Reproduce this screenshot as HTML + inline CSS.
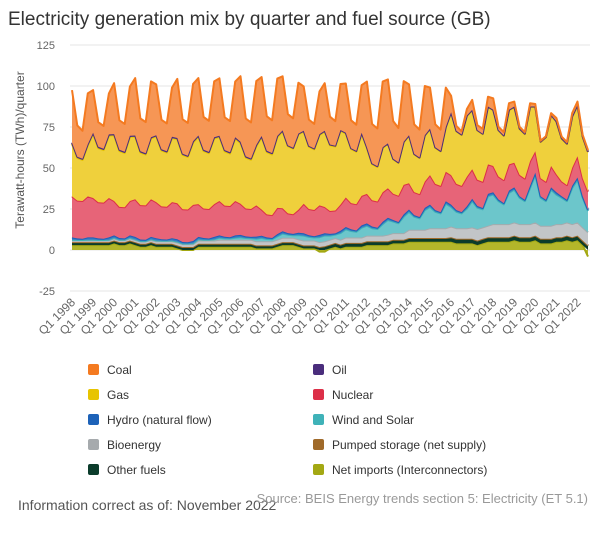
<!DOCTYPE html>
<html><head><meta charset="utf-8">
<style>
body{margin:0;background:#fff;font-family:"Liberation Sans",sans-serif;}
#wrap{position:relative;width:600px;height:540px;overflow:hidden;}
svg text{font-family:"Liberation Sans",sans-serif;}
</style></head>
<body>
<div id="wrap">
<svg id="chart" width="600" height="540">
<text x="8" y="25" font-size="19" fill="#333">Electricity generation mix by quarter and fuel source (GB)</text>
<text transform="translate(24,150) rotate(-90)" text-anchor="middle" font-size="12" fill="#555">Terawatt-hours (TWh)/quarter</text>
<g id="grid"></g><g id="areas"></g><g id="xlabels"></g><g id="legend"></g>
<text x="18" y="510" font-size="14" fill="#555">Information correct as of: November 2022</text>
<text x="588" y="503" text-anchor="end" font-size="13" fill="#999">Source: BEIS Energy trends section 5: Electricity (ET 5.1)</text>
</svg>
</div>
<script>
const years=[1998,1999,2000,2001,2002,2003,2004,2005,2006,2007,2008,2009,2010,2011,2012,2013,2014,2015,2016,2017,2018,2019,2020,2021,2022];
const yTicks=[-25,0,25,50,75,100,125];
const coal=[32,19,17,31, 26,15,14,25, 31,18,17,30, 35,20,19,34, 31,18,17,30, 36,21,20,35, 35,20,19,34, 35,20,19,34, 40,23,22,39, 36,21,20,35, 33,19,18,31, 27,16,15,26, 29,17,15,28, 30,17,16,29, 40,24,23,40, 39,23,21,37, 31,18,17,30, 25,14,13,24, 10,3,2,4, 6,3,3,6, 7,2,2,4, 3,1,1,2, 1.5,0.5,0.5,1, 2,1,1,2, 2,1,1];
const oil=[0.8,0.8,0.8,0.8, 0.8,0.8,0.8,0.8, 0.8,0.8,0.8,0.8, 0.8,0.8,0.8,0.8, 0.8,0.8,0.8,0.8, 0.8,0.8,0.8,0.8, 0.8,0.8,0.8,0.8, 0.8,0.8,0.8,0.8, 0.8,0.8,0.8,0.8, 0.8,0.8,0.8,0.8, 0.5,0.5,0.5,0.5, 0.5,0.5,0.5,0.5, 0.5,0.5,0.5,0.5, 0.5,0.5,0.5,0.5, 0.5,0.5,0.5,0.5, 0.3,0.3,0.3,0.3, 0.3,0.3,0.3,0.3, 0.3,0.3,0.3,0.3, 0.3,0.3,0.3,0.3, 0.3,0.3,0.3,0.3, 0.3,0.3,0.3,0.3, 0.3,0.3,0.3,0.3, 0.3,0.3,0.3,0.3, 0.3,0.3,0.3,0.3, 0.3,0.3,0.3];
const gas=[32,26,25,31, 39,33,32,38, 40,34,33,39, 38,32,31,37, 40,34,33,39, 39,33,32,38, 41,35,34,40, 39,33,32,38, 37,31,30,36, 44,38,37,43, 47,41,40,46, 44,38,37,43, 46,40,39,45, 39,33,32,38, 28,22,21,27, 27,21,20,26, 29,23,22,28, 28,22,21,27, 38,32,31,37, 36,30,29,35, 34,28,27,33, 34,28,27,33, 27,22,27,31, 32,26,25,31, 31,25,24];
const nuclear=[25,23,23,25, 24,22,22,24, 21,19,19,21, 23,21,21,23, 22,20,20,22, 22,20,20,22, 20,18,18,20, 21,19,19,21, 19,17,17,19, 16,14,14,16, 14,12,12,14, 18,16,16,18, 16,14,14,16, 18,16,16,18, 18,16,16,18, 18,16,16,18, 16,14,14,16, 18,16,16,18, 18,16,16,18, 18,16,16,18, 16,14,14,16, 15,13,13,15, 13,11,11,13, 11,9,9,11, 13,11,11];
const hydro=[1.4,1,0.8,1.4, 1.4,1,0.8,1.4, 1.4,1,0.8,1.4, 1.4,1,0.8,1.4, 1.4,1,0.8,1.4, 1.4,1,0.8,1.4, 1.4,1,0.8,1.4, 1.4,1,0.8,1.4, 1.4,1,0.8,1.4, 1.4,1,0.8,1.4, 1.4,1,0.8,1.4, 1.4,1,0.8,1.4, 1.4,1,0.8,1.4, 1.4,1,0.8,1.4, 1.4,1,0.8,1.4, 1.4,1,0.8,1.4, 1.4,1,0.8,1.4, 1.4,1,0.8,1.4, 1.4,1,0.8,1.4, 1.4,1,0.8,1.4, 1.4,1,0.8,1.4, 1.4,1,0.8,1.4, 1.4,1,0.8,1.4, 1.4,1,0.8,1.4, 1.4,1,0.8];
const wind=[0.5,0.3,0.3,0.5, 0.5,0.3,0.3,0.5, 0.5,0.3,0.3,0.5, 0.5,0.3,0.3,0.5, 0.5,0.3,0.3,0.5, 0.5,0.3,0.3,0.5, 0.8,0.5,0.4,0.8, 1.2,0.8,0.7,1.2, 1.5,1,0.9,1.5, 2,1.4,1.2,2, 2.5,1.8,1.5,2.6, 3,2.2,1.8,3, 3.5,2.5,2,4, 5,4,3.5,6, 6,4.5,4,7, 9,7,6,10, 11,8,7,12, 13,10,9,15, 12,10,9,12, 16,13,11,18, 18,14,12,19, 20,16,14,22, 29,17,15,22, 18,16,13,22, 26,18,13];
const bio=[1,1,1,1, 1,1,1,1, 1.2,1.2,1.2,1.2, 1.3,1.3,1.3,1.3, 1.5,1.5,1.5,1.5, 1.8,1.8,1.8,1.8, 2,2,2,2, 2.5,2.5,2.5,2.5, 2.5,2.5,2.5,2.5, 2.5,2.5,2.5,2.5, 2.7,2.7,2.7,2.7, 3,3,3,3, 3,3,3,3, 3.3,3.3,3.3,3.3, 3.5,3.5,3.5,3.5, 4,4,4,4, 5,5,5,5, 6,6,6,6, 6.5,6.5,6.5,6.5, 7,7,7,7, 8,8,8,8, 8,8,8,8, 8,8,8,8, 8,8,8,8, 8,8,8];
const pumped=[0.3,0.3,0.3,0.3, 0.3,0.3,0.3,0.3, 0.3,0.3,0.3,0.3, 0.3,0.3,0.3,0.3, 0.3,0.3,0.3,0.3, 0.3,0.3,0.3,0.3, 0.3,0.3,0.3,0.3, 0.3,0.3,0.3,0.3, 0.3,0.3,0.3,0.3, 0.3,0.3,0.3,0.3, 0.3,0.3,0.3,0.3, 0.3,0.3,0.3,0.3, 0.3,0.3,0.3,0.3, 0.3,0.3,0.3,0.3, 0.3,0.3,0.3,0.3, 0.3,0.3,0.3,0.3, 0.3,0.3,0.3,0.3, 0.3,0.3,0.3,0.3, 0.3,0.3,0.3,0.3, 0.3,0.3,0.3,0.3, 0.3,0.3,0.3,0.3, 0.3,0.3,0.3,0.3, 0.3,0.3,0.3,0.3, 0.3,0.3,0.3,0.3, 0.3,0.3,0.3];
const other=[1.5,1.5,1.5,1.5, 1.5,1.5,1.5,1.5, 1.5,1.5,1.5,1.5, 1.5,1.5,1.5,1.5, 1.5,1.5,1.5,1.5, 1.5,1.5,1.5,1.5, 1.5,1.5,1.5,1.5, 1.5,1.5,1.5,1.5, 1.5,1.5,1.5,1.5, 1.5,1.5,1.5,1.5, 1.5,1.5,1.5,1.5, 1.5,1.5,1.5,1.5, 2,2,2,2, 2,2,2,2, 2,2,2,2, 2,2,2,2, 2,2,2,2, 2,2,2,2, 2.5,2.5,2.5,2.5, 2.5,2.5,2.5,2.5, 2.5,2.5,2.5,2.5, 2.5,2.5,2.5,2.5, 2.5,2.5,2.5,2.5, 2.5,2.5,2.5,2.5, 2.5,2.5,2.5];
const imports=[3,3,3,3, 3,3,3,3, 4,3,3,4, 3,2,2,3, 2,2,2,2, 1,0,0,0, 2,2,2,2, 2,2,2,2, 2,2,2,1, 1,1,1,2, 3,3,3,2, 1,1,1,-1, -1,1,2,1, 2,2,2,2, 3,3,3,3, 3,4,4,4, 5,5,5,5, 5,5,5,5, 5,4,4,4, 4,3,4,5, 5,5,5,5, 6,5,5,5, 6,4,4,4, 5,5,6,5, 6,3,-4];

const NS='http://www.w3.org/2000/svg';
const X0=72,X1=588,Y0=250,PU=41/25;
const n=coal.length;
const xs=i=>X0+(X1-X0)*i/(n-1);
const ys=v=>Y0-v*PU;
function mk(tag,attrs,parent){const e=document.createElementNS(NS,tag);for(const k in attrs)e.setAttribute(k,attrs[k]);parent.appendChild(e);return e;}
const grid=document.getElementById('grid');
yTicks.forEach(t=>{
  const l=mk('line',{x1:70,x2:590,y1:ys(t),y2:ys(t),stroke:'#e6e6e6','stroke-width':1},grid);
  
  
  const tx=mk('text',{x:55,y:ys(t)+4,'text-anchor':'end','font-size':11,fill:'#666'},grid);
  tx.textContent=t;
  
  
});
const xl=document.getElementById('xlabels');
years.forEach((yr,k)=>{
  const i=k*4;const x=xs(i)+4;
  const tx=mk('text',{transform:`translate(${x},${303}) rotate(-45)`,'text-anchor':'end','font-size':12,fill:'#666'},xl);
  tx.textContent='Q1 '+yr;
  
  
});
const series=[
 {name:'Net imports (Interconnectors)',d:imports,c:'#a3a813',f:'#b3b62a',key:'net-imports'},
 {name:'Other fuels',d:other,c:'#0b3c2b',f:'#0b3c2b',key:'other-fuels'},
 {name:'Pumped storage (net supply)',d:pumped,c:'#a06a2a',f:'#a06a2a',key:'pumped-storage'},
 {name:'Bioenergy',d:bio,c:'#a6aaad',f:'#c2c5c8',key:'bioenergy'},
 {name:'Wind and Solar',d:wind,c:'#3fb2b8',f:'#6cc6cb',key:'wind-and-solar'},
 {name:'Hydro (natural flow)',d:hydro,c:'#1d62b8',f:'#3a78c4',key:'hydro'},
 {name:'Nuclear',d:nuclear,c:'#dc2f48',f:'#e76478',key:'nuclear'},
 {name:'Gas',d:gas,c:'#e7c400',f:'#efd03c',key:'gas'},
 {name:'Oil',d:oil,c:'#4a2d7c',f:'#5a3f8c',key:'oil'},
 {name:'Coal',d:coal,c:'#f47a20',f:'#f69655',key:'coal'}
];
const areas=document.getElementById('areas');
let pos=new Array(n).fill(0),neg=new Array(n).fill(0);
series.forEach(s=>{
  const lo=[],hi=[];
  for(let i=0;i<n;i++){const v=s.d[i];
    if(v>=0){lo.push(pos[i]);pos[i]+=v;hi.push(pos[i]);}
    else{lo.push(neg[i]);neg[i]+=v;hi.push(neg[i]);}}
  let p='';
  for(let i=0;i<n;i++)p+=(i?'L':'M')+xs(i).toFixed(1)+','+ys(hi[i]).toFixed(1);
  for(let i=n-1;i>=0;i--)p+='L'+xs(i).toFixed(1)+','+ys(lo[i]).toFixed(1);
  p+='Z';
  const a=mk('path',{d:p,fill:s.f,stroke:'none'},areas);
  
  
  let lp='';
  for(let i=0;i<n;i++)lp+=(i?'L':'M')+xs(i).toFixed(1)+','+ys(hi[i]).toFixed(1);
  const ln=mk('path',{d:lp,fill:'none',stroke:s.c,'stroke-width':2,'stroke-linejoin':'round'},areas);
  
  
});
const leg=document.getElementById('legend');
const order=['coal','oil','gas','nuclear','hydro','wind-and-solar','bioenergy','pumped-storage','other-fuels','net-imports'];
order.forEach((k,j)=>{
  const s=series.find(z=>z.key===k);
  const col=j%2,row=Math.floor(j/2);
  const x=col?313:88,y=370+row*25;
  const g=mk('g',{},leg);
  
  
  mk('rect',{x:x,y:y-6,width:11,height:11,rx:2,fill:s.c},g);
  const t=mk('text',{x:x+19,y:y+4,'font-size':12,fill:'#333'},g);
  t.textContent=s.name;
});
</script>
</body></html>
